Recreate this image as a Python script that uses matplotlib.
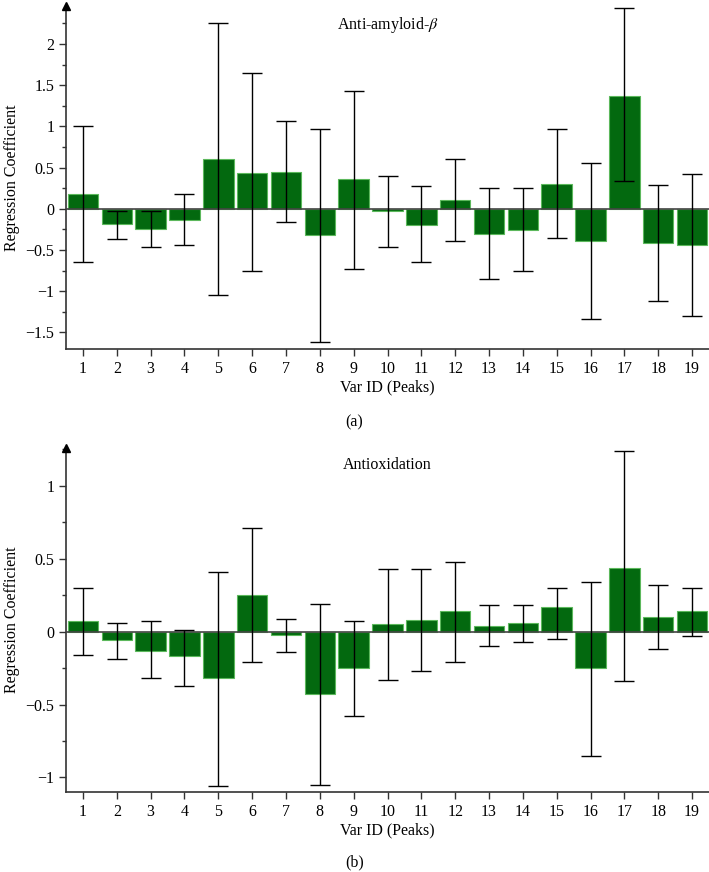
import numpy as np
import matplotlib
matplotlib.use('Agg')
import matplotlib.pyplot as plt
from matplotlib.ticker import MultipleLocator

plt.rcParams['font.family'] = ['Liberation Serif', 'DejaVu Serif']
plt.rcParams['mathtext.fontset'] = 'stix'

var_ids = list(range(1, 20))

# (a) anti-amyloid-beta: coefficient, lower and upper end of the error bar
amyloid_coef = [0.18, -0.18, -0.25, -0.13, 0.60, 0.44, 0.45, -0.32, 0.36, -0.03,
                -0.20, 0.11, -0.30, -0.26, 0.30, -0.39, 1.37, -0.42, -0.44]
amyloid_low = [-0.64, -0.36, -0.46, -0.44, -1.04, -0.76, -0.16, -1.62, -0.73, -0.46,
               -0.65, -0.39, -0.85, -0.76, -0.35, -1.34, 0.34, -1.12, -1.30]
amyloid_high = [1.01, -0.02, -0.03, 0.18, 2.25, 1.65, 1.07, 0.97, 1.43, 0.40,
                0.28, 0.61, 0.25, 0.25, 0.97, 0.56, 2.44, 0.29, 0.42]

# (b) antioxidation
antiox_coef = [0.07, -0.06, -0.13, -0.17, -0.32, 0.25, -0.02, -0.43, -0.25, 0.05,
               0.08, 0.14, 0.04, 0.06, 0.17, -0.25, 0.44, 0.10, 0.14]
antiox_low = [-0.16, -0.19, -0.32, -0.37, -1.06, -0.21, -0.14, -1.05, -0.58, -0.33,
              -0.27, -0.21, -0.10, -0.07, -0.05, -0.85, -0.34, -0.12, -0.03]
antiox_high = [0.30, 0.06, 0.07, 0.01, 0.41, 0.71, 0.09, 0.19, 0.07, 0.43,
               0.43, 0.48, 0.18, 0.18, 0.30, 0.34, 1.24, 0.32, 0.30]

BAR = '#03690f'
EDGE = '#5cb85c'


def panel(ax, coef, low, high, title, ylim, major, minor):
    coef = np.array(coef)
    yerr = [coef - np.array(low), np.array(high) - coef]
    ax.bar(var_ids, coef, width=0.9, color=BAR, edgecolor=EDGE, linewidth=0.8, zorder=2)
    ax.axhline(0, color='#444444', linewidth=1.2, zorder=3)
    ax.errorbar(var_ids, coef, yerr=yerr, fmt='none', ecolor='black',
                elinewidth=1.0, capsize=7, capthick=1.0, zorder=4, clip_on=False)
    ax.set_xlim(0.5, 19.5)
    ax.set_ylim(*ylim)
    ax.set_xticks(var_ids)
    ax.yaxis.set_major_locator(MultipleLocator(major))
    ax.yaxis.set_minor_locator(MultipleLocator(minor))
    ax.yaxis.set_major_formatter(plt.FuncFormatter(lambda v, p: ('%g' % v).replace('-', '\u2212')))
    for s in ('top', 'right'):
        ax.spines[s].set_visible(False)
    for s in ('left', 'bottom'):
        ax.spines[s].set_color('#333333')
        ax.spines[s].set_linewidth(1.2)
    ax.tick_params(axis='both', which='major', direction='out', length=5, width=1,
                   labelsize=11.5, color='#333333')
    ax.tick_params(axis='y', which='minor', direction='out', length=3, width=1, color='#333333')
    ax.plot(0, 1, marker='^', color='black', markersize=6, transform=ax.transAxes,
            clip_on=False, zorder=5)
    ax.set_ylabel('Regression Coefficient', fontsize=11.5)
    ax.set_xlabel('Var ID (Peaks)', fontsize=11.5, labelpad=2)
    ax.text(0.5, 0.975, title, transform=ax.transAxes, ha='center', va='top', fontsize=11.5)


fig = plt.figure(figsize=(7.09, 8.72), dpi=100)
ax1 = fig.add_axes([0.0931, 0.5998, 0.9069, 0.3932])
ax2 = fig.add_axes([0.0931, 0.0917, 0.9069, 0.3945])

panel(ax1, amyloid_coef, amyloid_low, amyloid_high, 'Anti-amyloid-$\\beta$',
      (-1.7, 2.46), 0.5, 0.25)
panel(ax2, antiox_coef, antiox_low, antiox_high, 'Antioxidation',
      (-1.1, 1.26), 0.5, 0.25)

fig.text(0.5, 1 - 422 / 872, '(a)', ha='center', va='center', fontsize=11.5)
fig.text(0.5, 1 - 862 / 872, '(b)', ha='center', va='center', fontsize=11.5)

fig.savefig('out.png', dpi=100)
